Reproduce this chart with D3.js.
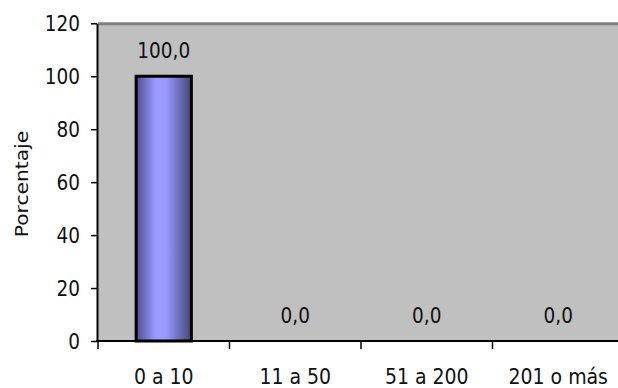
<!DOCTYPE html>
<html>
<head>
<meta charset="utf-8">
<script src="https://cdn.jsdelivr.net/npm/d3@7"></script>
<style>
  html, body { margin: 0; padding: 0; background: #fff; }
  svg { display: block; }
  text { font-family: "DejaVu Sans Condensed", "DejaVu Sans", sans-serif; fill: #111; }
</style>
</head>
<body>
<svg id="chart" width="618" height="388"></svg>
<script>
const categories = ["0 a 10", "11 a 50", "51 a 200", "201 o más"];
const values = [100.0, 0.0, 0.0, 0.0];
const yTicks = [0, 20, 40, 60, 80, 100, 120];
const yLabel = "Porcentaje";

const W = 618, H = 388;
const mLeft = 98, mRight = 624, mTop = 23.3, mBottom = 341;

const svg = d3.select("#chart");

const x = d3.scaleBand().domain(categories).range([mLeft, mRight]).paddingInner(0).paddingOuter(0);
const y = d3.scaleLinear().domain([0, 120]).range([mBottom, mTop]);

const defs = svg.append("defs");
const grad = defs.append("linearGradient").attr("id", "barGrad")
  .attr("x1", "0%").attr("x2", "100%").attr("y1", "0%").attr("y2", "0%");
[["0%", "#4e4e8e"], ["35%", "#9a9aff"], ["55%", "#9898fc"], ["100%", "#46467a"]]
  .forEach(([o, c]) => grad.append("stop").attr("offset", o).attr("stop-color", c));

// plot area
svg.append("rect").attr("x", mLeft).attr("y", y(120))
  .attr("width", mRight - mLeft).attr("height", mBottom - y(120))
  .attr("fill", "#c0c0c0");
svg.append("line").attr("x1", mLeft).attr("x2", W).attr("y1", y(120) + 0.5).attr("y2", y(120) + 0.5)
  .attr("stroke", "#808080").attr("stroke-width", 3);

// bars
const bw = x.bandwidth() * 0.42;
svg.append("g").selectAll("rect").data(values).join("rect")
  .attr("x", (d, i) => x(categories[i]) + (x.bandwidth() - bw) / 2)
  .attr("y", d => y(d))
  .attr("width", bw)
  .attr("height", d => y(0) - y(d))
  .attr("fill", "url(#barGrad)")
  .attr("stroke", d => d > 0 ? "#000" : "none")
  .attr("stroke-width", 3);

// value labels
svg.append("g").selectAll("text").data(values).join("text")
  .attr("x", (d, i) => x(categories[i]) + x.bandwidth() / 2)
  .attr("y", d => y(d) - 18)
  .attr("text-anchor", "middle")
  .attr("font-size", 20.5)
  .text(d => d.toFixed(1).replace(".", ","));

// y axis
const yAxis = svg.append("g").attr("transform", `translate(${mLeft - 1},0)`)
  .call(d3.axisLeft(y).tickValues(yTicks).tickSize(6).tickPadding(11).tickSizeOuter(0));
yAxis.select(".domain").attr("stroke", "#000").attr("stroke-width", 2);
yAxis.selectAll(".tick line").attr("stroke", "#000").attr("stroke-width", 1.5);
yAxis.selectAll(".tick text").attr("font-size", 20.5)
  .attr("font-family", "DejaVu Sans Condensed, DejaVu Sans, sans-serif")
  .attr("fill", "#111").attr("dy", "0.36em");

// x axis
const xAxis = svg.append("g").attr("transform", `translate(0,${mBottom})`);
xAxis.append("line").attr("x1", mLeft - 2).attr("x2", W).attr("y1", 0).attr("y2", 0)
  .attr("stroke", "#000").attr("stroke-width", 2);
const bounds = categories.map(c => x(c)).concat([x.range()[1]]);
xAxis.selectAll("line.tk").data(bounds).join("line").attr("class", "tk")
  .attr("x1", d => d).attr("x2", d => d).attr("y1", 0).attr("y2", 8)
  .attr("stroke", "#000").attr("stroke-width", 1.5);
xAxis.selectAll("text").data(categories).join("text")
  .attr("x", d => x(d) + x.bandwidth() / 2)
  .attr("y", 43)
  .attr("text-anchor", "middle")
  .attr("font-size", 21)
  .text(d => d);

// y label
svg.append("text")
  .attr("transform", `translate(27.5,184) rotate(-90) scale(1.25,1)`)
  .attr("text-anchor", "middle")
  .attr("font-family", "Liberation Sans, Arial, sans-serif")
  .attr("font-size", 18)
  .text(yLabel);
</script>
</body>
</html>
